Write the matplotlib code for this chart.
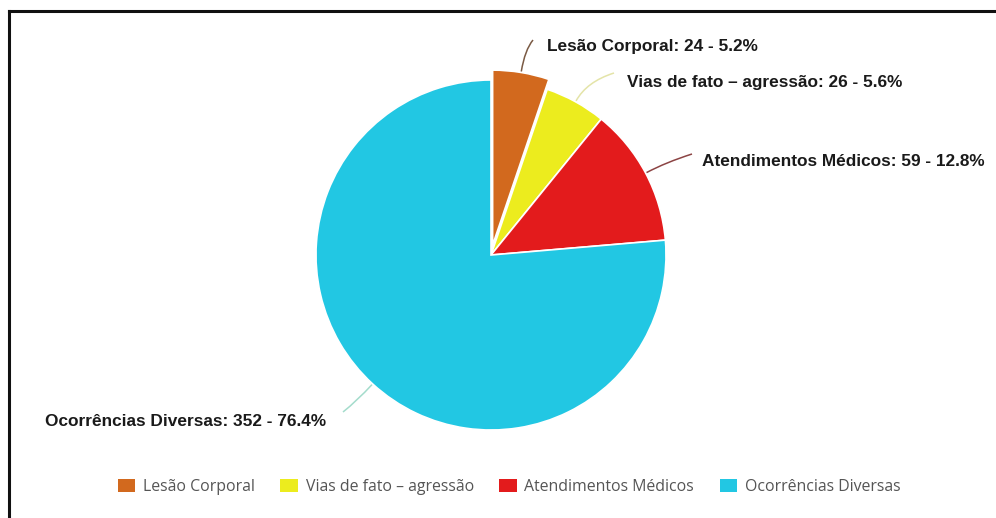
import numpy as np
import matplotlib
matplotlib.use("Agg")
import matplotlib.pyplot as plt
from matplotlib.path import Path
from matplotlib.patches import PathPatch, Patch
from matplotlib.lines import Line2D

categories = ["Lesão Corporal", "Vias de fato – agressão", "Atendimentos Médicos", "Ocorrências Diversas"]
values = [24, 26, 59, 352]
colors = ["#d2691e", "#ecec1e", "#e31b1c", "#22c7e3"]
connector_colors = ["#7a5a44", "#e4e4a8", "#8c4444", "#a4dccc"]

W, H = 996, 518
total = sum(values)

fig = plt.figure(figsize=(W / 100, H / 100), dpi=100)
ax = fig.add_axes([0, 0, 1, 1])

# pie geometry in pixel units (y up); explode is an absolute offset
cx, cy, r = 491, H - 255, 175
wedges, _ = ax.pie(values, colors=colors, startangle=90, counterclock=False,
                   center=(cx, cy), radius=r, explode=[10, 0, 0, 0],
                   wedgeprops=dict(edgecolor="white", linewidth=1.2))
ax.set_xlim(0, W)
ax.set_ylim(0, H)
ax.set_aspect("equal")
ax.axis("off")

# label layout (image pixel coords): connector end, text anchor, alignment
label_layout = [
    ((533, 40), (547, 47), "left"),
    ((614, 73), (627, 82), "left"),
    ((692, 154), (702, 162), "left"),
    ((343, 412), (326, 422), "right"),
]

for w, name, v, cc, (end, txt, ha) in zip(wedges, categories, values, connector_colors, label_layout):
    ang = np.deg2rad((w.theta1 + w.theta2) / 2)
    direc = np.array([np.cos(ang), np.sin(ang)])
    p0 = np.array(w.center) + direc * (w.r + 1)
    ctrl = p0 + direc * 22
    p1 = np.array([end[0], H - end[1]])
    path = Path([p0, ctrl, p1], [Path.MOVETO, Path.CURVE3, Path.CURVE3])
    ax.add_patch(PathPatch(path, facecolor="none", edgecolor=cc, linewidth=1.1))
    ax.text(txt[0], H - txt[1], f"{name}: {v} - {v / total * 100:.1f}%",
            ha=ha, va="center", fontsize=12.4, fontweight="bold",
            family="Liberation Sans", color="#1a1a1a")

handles = [Patch(facecolor=c, edgecolor="none") for c in colors]
leg = fig.legend(handles, categories, loc="center", ncol=4,
                 bbox_to_anchor=(509 / W, 1 - 487 / H), frameon=False,
                 prop=dict(family="Open Sans", size=11.4),
                 handlelength=1.1, handleheight=0.9, handletextpad=0.5,
                 columnspacing=1.6, labelcolor="#555555")

# screenshot frame (left and top edges)
fig.add_artist(Line2D([9 / W, 9 / W], [0, 1 - 11 / H], color="#111111", linewidth=2.2))
fig.add_artist(Line2D([9 / W, 1], [1 - 11 / H, 1 - 11 / H], color="#111111", linewidth=2.2))

fig.savefig("out.png", dpi=100, facecolor="white")
